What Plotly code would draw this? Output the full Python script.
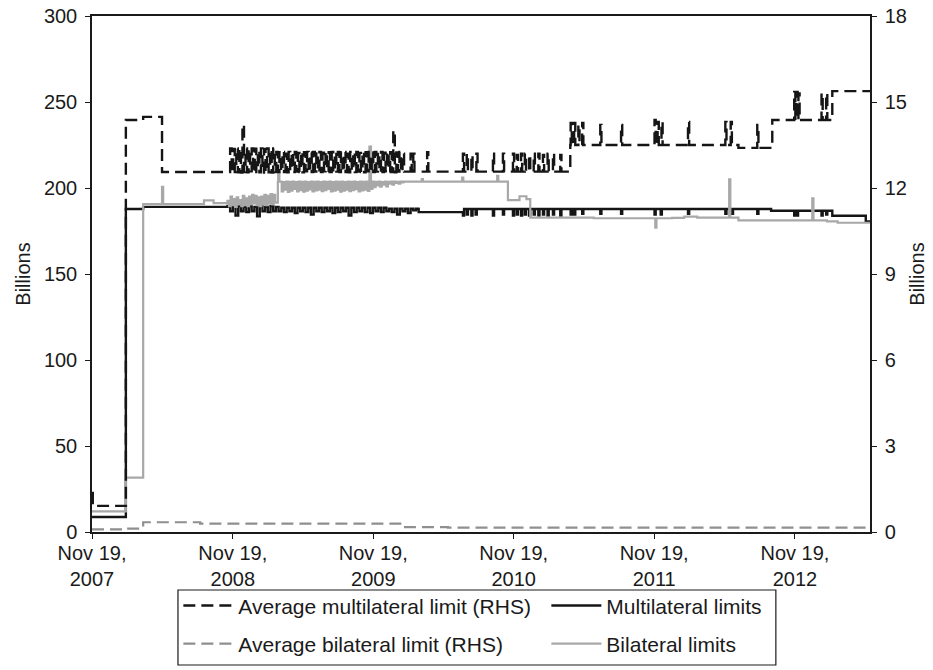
import pandas as pd
import plotly.graph_objects as go

# ---------------- data ----------------
X_START = "2007-11-19"
X_END = "2013-06-02"
TICK_DATES = ["2007-11-19", "2008-11-19", "2009-11-19", "2010-11-19", "2011-11-19", "2012-11-19"]
TICK_TEXT = ["Nov 19,<br>2007", "Nov 19,<br>2008", "Nov 19,<br>2009",
             "Nov 19,<br>2010", "Nov 19,<br>2011", "Nov 19,<br>2012"]
LEFT_TICKS = [0, 50, 100, 150, 200, 250, 300]
RIGHT_TICKS = [0, 3, 6, 9, 12, 15, 18]

SPIKE_DAYS = 3        # duration of a one-off spike in the daily data

# Average multilateral limit (RHS, billions)
avg_multi_steps = [("2007-11-19", 1.36), ("2007-11-21", 0.91), ("2008-02-15", 14.37),
                   ("2008-03-31", 14.48), ("2008-05-19", 12.56), ("2010-02-14", 12.57),
                   ("2011-04-15", 13.50), ("2012-06-25", 13.40), ("2012-09-21", 14.37),
                   ("2013-02-24", 15.38)]
avg_multi_noise_start = "2008-11-12"
avg_multi_noise_days = 4
avg_multi_noise = [13.38, 12.54, 13.36, 12.56, 13.38, 12.55, 13.37, 12.54, 14.20, 12.56,
                   13.38, 12.55, 13.35, 12.58, 13.38, 12.54, 13.37, 12.56, 13.30, 12.55,
                   13.38, 12.54, 13.36, 12.57, 13.38, 12.55, 13.34, 12.54, 13.38, 12.56,
                   13.26, 12.56, 13.25, 12.58, 13.26, 12.56, 13.20, 12.55, 13.26, 12.60,
                   13.25, 12.56, 13.26, 12.57, 13.22, 12.56, 13.26, 12.55, 13.25, 12.58,
                   13.26, 12.56, 13.24, 12.56, 13.26, 12.57, 13.25, 12.55, 13.26, 12.56,
                   13.23, 12.58, 13.26, 12.56, 13.25, 12.56, 13.26, 12.55, 13.24, 12.57,
                   13.26, 12.56, 13.25, 12.58, 13.26, 12.56, 13.20, 12.55, 13.26, 12.60,
                   13.25, 12.56, 13.26, 12.57, 13.22, 12.56, 13.26, 12.55, 13.25, 12.58,
                   13.26, 12.56, 13.24, 12.56, 13.26, 12.57, 13.25, 12.55, 13.26, 12.56,
                   13.23, 12.58, 13.26, 12.56, 13.25, 12.56, 14.00, 12.55, 13.24, 12.57,
                   13.26, 12.56, 13.20, 12.57]
avg_multi_spikes = [("2010-02-24", 13.20), ("2010-03-03", 13.20), ("2010-04-08", 13.25),
                    ("2010-07-10", 13.20), ("2010-07-20", 13.20), ("2010-08-01", 13.15),
                    ("2010-08-14", 13.20), ("2010-09-26", 13.20), ("2010-10-22", 13.20),
                    ("2010-11-17", 13.20), ("2010-11-27", 13.15), ("2010-12-08", 13.20),
                    ("2010-12-18", 13.20), ("2010-12-29", 13.15), ("2011-01-10", 13.20),
                    ("2011-01-22", 13.20), ("2011-02-03", 13.15), ("2011-02-15", 13.20),
                    ("2011-03-01", 13.20), ("2011-03-20", 13.15),
                    ("2011-04-16", 14.27), ("2011-04-25", 14.27), ("2011-05-06", 14.20),
                    ("2011-05-16", 14.27), ("2011-07-02", 14.20), ("2011-08-25", 14.20),
                    ("2011-11-20", 14.37), ("2011-11-28", 14.30), ("2011-12-08", 14.30),
                    ("2012-02-15", 14.30), ("2012-05-22", 14.30), ("2012-06-05", 14.30),
                    ("2012-08-13", 14.20), ("2012-11-17", 15.35), ("2012-11-23", 15.35),
                    ("2012-11-28", 15.30), ("2013-01-27", 15.30), ("2013-02-08", 15.30)]

# Multilateral limits (LHS, billions)
multi_steps = [("2007-11-19", 8.7), ("2008-02-15", 187.8), ("2008-03-31", 189.0),
               ("2010-03-16", 187.8), ("2012-09-18", 186.8), ("2013-02-24", 183.9),
               ("2013-05-22", 180.5)]
multi_noise_start = "2008-11-05"
multi_noise_days = 7
multi_noise = [189.5, 186.5, 189.0, 184.0, 189.5, 186.5, 189.0, 186.0, 189.5, 186.5,
               189.0, 183.5, 189.5, 186.5, 189.0, 186.0, 189.5, 186.5, 189.0, 186.5,
               188.5, 186.0, 188.5, 186.5, 188.5, 185.5, 188.5, 186.5, 188.5, 186.0,
               188.5, 184.5, 188.5, 186.5, 188.5, 186.0, 188.5, 186.5, 188.5, 185.5,
               188.5, 186.0, 188.5, 186.5, 188.5, 184.0, 188.5, 186.0, 188.5, 186.5,
               188.5, 186.0, 188.5, 185.5, 188.5, 186.5, 188.5, 186.0, 188.5, 186.5,
               188.0, 186.0, 188.0, 184.5, 188.0, 186.5, 188.0, 185.5, 188.0, 187.0,
               188.0, 186.0]
multi_spikes = [("2010-07-10", 184.0), ("2010-07-20", 184.5), ("2010-08-01", 184.0),
                ("2010-08-12", 184.5), ("2010-09-26", 184.0), ("2010-10-22", 184.5),
                ("2010-11-17", 184.0), ("2010-11-27", 184.5), ("2010-12-08", 184.0),
                ("2010-12-18", 184.5), ("2010-12-29", 184.0), ("2011-01-10", 184.5),
                ("2011-01-22", 184.0), ("2011-02-03", 184.5), ("2011-02-15", 184.0),
                ("2011-03-01", 184.5), ("2011-03-20", 184.0), ("2011-04-16", 184.5),
                ("2011-04-25", 184.5), ("2011-05-16", 185.0), ("2011-07-02", 185.0),
                ("2011-08-25", 185.0), ("2011-11-20", 184.5), ("2011-12-06", 184.5),
                ("2012-02-15", 185.0), ("2012-05-22", 185.0), ("2012-06-08", 185.0),
                ("2012-08-13", 185.0), ("2012-11-17", 184.0), ("2012-11-24", 184.0),
                ("2013-01-27", 184.0), ("2013-02-08", 184.5)]

# Average bilateral limit (RHS, billions)
avg_bi_steps = [("2007-11-19", 0.09), ("2008-02-08", 0.12), ("2008-03-31", 0.34),
                ("2008-08-26", 0.29), ("2010-02-04", 0.17), ("2010-06-01", 0.155)]

# Bilateral limits (LHS, billions)
bi_steps = [("2007-11-19", 12.0), ("2008-02-15", 31.6), ("2008-03-31", 190.7),
            ("2008-09-05", 192.8), ("2008-09-30", 191.2), ("2009-03-16", 203.7),
            ("2010-02-12", 203.7), ("2010-11-04", 193.0), ("2010-12-04", 195.2),
            ("2010-12-22", 193.5), ("2011-01-01", 182.8), ("2011-06-15", 182.4),
            ("2012-01-05", 182.6), ("2012-02-05", 183.4), ("2012-03-10", 182.8),
            ("2012-06-25", 181.2), ("2013-02-10", 180.6), ("2013-03-10", 179.8)]
bi_noise1_start = "2008-11-05"
bi_noise1_days = 4
bi_noise1 = [192.5, 189.5, 195.0, 190.0, 193.5, 189.0, 194.5, 190.5, 193.0, 189.5,
             195.5, 190.0, 194.0, 189.5, 195.0, 190.5, 196.0, 191.0, 195.5, 190.0,
             194.5, 189.5, 195.0, 190.5, 196.0, 190.0, 195.5, 191.0, 196.5, 190.5,
             196.0, 191.5]
bi_noise2_start = "2009-03-22"
bi_noise2_days = 4
bi_noise2 = [203.7, 198.0, 203.5, 199.0, 203.7, 197.8, 203.6, 198.5, 203.7, 199.5,
             203.5, 198.0, 203.7, 198.8, 203.6, 197.9, 203.7, 198.5, 203.5, 199.2,
             203.7, 198.0, 203.6, 198.6, 203.7, 199.0, 203.5, 198.2, 203.7, 198.8,
             203.6, 199.5, 203.7, 198.0, 203.5, 198.5, 203.7, 199.0, 203.6, 197.9,
             203.7, 198.4, 203.5, 199.0, 203.7, 198.2, 203.6, 198.8, 203.7, 199.3,
             203.5, 198.0, 203.7, 198.6, 203.6, 199.0, 203.7, 198.3, 224.0, 199.5,
             203.7, 200.5, 203.6, 201.5, 203.7, 200.8, 203.5, 202.0, 203.7, 201.0,
             203.6, 202.5, 203.7, 202.0, 203.7, 203.0, 203.6, 202.5, 203.7, 203.2,
             203.7]
bi_spikes = [("2008-05-19", 200.6), ("2009-03-17", 209.0), ("2010-03-25", 205.2),
             ("2010-07-08", 206.0), ("2010-10-07", 207.0), ("2011-11-22", 177.0),
             ("2012-06-01", 205.0), ("2013-01-03", 194.0)]


# ---------------- build step series ----------------
def build(steps, spikes=(), noises=()):
    st = [(pd.Timestamp(d), v) for d, v in steps]

    def base_at(t):
        val = st[0][1]
        for d, v in st:
            if d <= t:
                val = v
        return val

    pts = list(st)
    for d, v in spikes:
        t = pd.Timestamp(d)
        t2 = t + pd.Timedelta(days=SPIKE_DAYS)
        pts += [(t, v), (t2, base_at(t2))]
    for start, step_days, vals in noises:
        dates = pd.date_range(start, periods=len(vals), freq=f"{step_days}D")
        pts += list(zip(dates, vals))
    pts.sort(key=lambda p: p[0])
    pts.append((pd.Timestamp(X_END), pts[-1][1]))
    return [p[0] for p in pts], [p[1] for p in pts]


am_x, am_y = build(avg_multi_steps, avg_multi_spikes,
                   [(avg_multi_noise_start, avg_multi_noise_days, avg_multi_noise)])
m_x, m_y = build(multi_steps, multi_spikes,
                 [(multi_noise_start, multi_noise_days, multi_noise)])
ab_x, ab_y = build(avg_bi_steps)
b_x, b_y = build(bi_steps, bi_spikes,
                 [(bi_noise1_start, bi_noise1_days, bi_noise1),
                  (bi_noise2_start, bi_noise2_days, bi_noise2)])

BLACK = "#151515"
GRAY = "#a8a8a8"
GRAY_D = "#8f8f8f"
DASH = "12px,6px"

fig = go.Figure()
fig.add_trace(go.Scatter(x=am_x, y=am_y, mode="lines", line_shape="hv", yaxis="y2",
                         name="Average multilateral limit (RHS)",
                         line=dict(color=BLACK, width=2.4, dash=DASH), legend="legend"))
fig.add_trace(go.Scatter(x=m_x, y=m_y, mode="lines", line_shape="hv",
                         name="Multilateral limits",
                         line=dict(color=BLACK, width=2.4), legend="legend"))
fig.add_trace(go.Scatter(x=ab_x, y=ab_y, mode="lines", line_shape="hv", yaxis="y2",
                         name="Average bilateral limit (RHS)",
                         line=dict(color=GRAY_D, width=2.2, dash=DASH), legend="legend2"))
fig.add_trace(go.Scatter(x=b_x, y=b_y, mode="lines", line_shape="hv",
                         name="Bilateral limits",
                         line=dict(color=GRAY, width=2.2), legend="legend2"))

FONT = dict(family="Liberation Sans, Arial, sans-serif", size=20, color="#1a1a1a")
axis_common = dict(showgrid=False, zeroline=False, showline=True, linecolor="#1a1a1a",
                   linewidth=1.5, ticks="outside", ticklen=5, tickcolor="#1a1a1a",
                   tickwidth=1.2, tickfont=FONT)

leg_common = dict(orientation="h", xanchor="left", yanchor="middle", x=0.111,
                  font=dict(family="Liberation Sans, Arial, sans-serif", size=21, color="#1a1a1a"),
                  bgcolor="rgba(0,0,0,0)", borderwidth=0, entrywidth=303,
                  entrywidthmode="pixels", itemwidth=50, traceorder="normal")

fig.update_layout(
    width=933, height=670, autosize=False,
    margin=dict(l=92, r=63, t=16, b=138, autoexpand=False),
    paper_bgcolor="white", plot_bgcolor="white",
    font=FONT,
    showlegend=True,
    xaxis=dict(type="date", range=[X_START, X_END], tickvals=TICK_DATES, ticktext=TICK_TEXT,
               mirror=True, ticklabelstandoff=-3, **axis_common),
    yaxis=dict(range=[0, 300], tickvals=LEFT_TICKS, ticklabelstandoff=4,
               title=dict(text="Billions", font=FONT, standoff=8), **axis_common),
    yaxis2=dict(range=[0, 18], tickvals=RIGHT_TICKS, overlaying="y", side="right",
                ticklabelstandoff=4, title=dict(text="Billions", font=FONT, standoff=4),
                **axis_common),
    legend=dict(y=-0.143, **leg_common),
    legend2=dict(y=-0.2171, **leg_common),
    shapes=[dict(type="rect", xref="paper", yref="paper", x0=0.1105, x1=0.879,
                 y0=-0.2578, y1=-0.1124, line=dict(color="#1a1a1a", width=1.2),
                 fillcolor="rgba(0,0,0,0)", layer="above")],
)

fig.write_html("out.html", config={"displayModeBar": False},
               post_script="document.body.style.margin='0';document.body.style.overflow='hidden';")
